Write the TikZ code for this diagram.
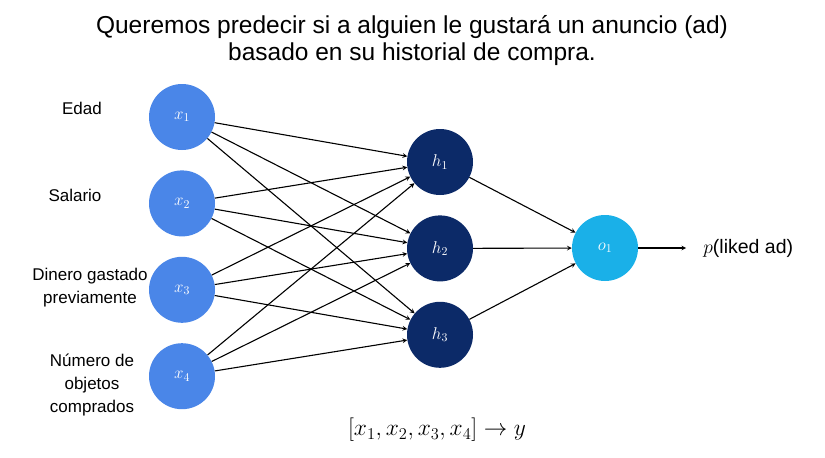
\RequirePackage{fix-cm}
\documentclass[tikz,border=0pt]{standalone}
\usepackage{amsmath,amssymb}
\usepackage{xcolor}
\usepackage{fontspec}
\setmainfont{Liberation Sans}
\usepackage{tikz}
\usetikzlibrary{shapes,arrows,positioning}

\definecolor{inblue}{HTML}{4A86E8}
\definecolor{hidnavy}{HTML}{0C2A68}
\definecolor{outcyan}{HTML}{1AB0E8}

\begin{document}
\begin{tikzpicture}[x=1pt, y=-1pt, node distance=20pt, auto,
    neuron/.style={circle, minimum size=66pt, inner sep=0pt, text=white, font=\fontsize{17}{19}\selectfont},
    inp/.style={neuron, fill=inblue},
    hid/.style={neuron, fill=hidnavy},
    outp/.style={neuron, fill=outcyan},
    feat/.style={align=center, font=\fontsize{17}{23}\selectfont},
    arrow/.style={->, >=stealth, line width=1.1pt}]

    \useasboundingbox (0,0) rectangle (825,458);

    \node[align=center, font=\fontsize{24.5}{27}\selectfont] (title) at (412,41)
        {Queremos predecir si a alguien le gustar\'a un anuncio (ad)\\basado en su historial de compra.};

    % entradas
    \node[inp] (x1) at (182,117) {$x_1$};
    \node[inp, below=of x1] (x2) {$x_2$};
    \node[inp, below=of x2] (x3) {$x_3$};
    \node[inp, below=of x3] (x4) {$x_4$};

    \node[feat] (edad) at (82,108) {Edad};
    \node[feat] (salario) at (75,195) {Salario};
    \node[feat] (dinero) at (90,288) {Dinero gastado\\previamente};
    \node[feat] (numero) at (92,385) {N\'umero de\\objetos\\comprados};

    % capa oculta
    \node[hid] (h1) at (440,162) {$h_1$};
    \node[hid, below=of h1] (h2) {$h_2$};
    \node[hid, below=of h2] (h3) {$h_3$};

    % salida
    \node[outp] (o1) at (605,248) {$o_1$};
    \node[right=65pt of o1, inner sep=0pt] (p) {\fontsize{19.5}{21}\selectfont$p$(liked ad)};

    \foreach \i in {1,...,4}
        \foreach \j in {1,2,3}
            \draw[arrow] (x\i) -- (h\j);
    \foreach \j in {1,2,3}
        \draw[arrow] (h\j) -- (o1);
    \draw[arrow] (o1) -- ([xshift=-17pt]p.west);

    \node[font=\fontsize{23.5}{25}\selectfont] (vec) at (437,430) {$[x_1, x_2, x_3, x_4] \rightarrow y$};

\end{tikzpicture}
\end{document}
